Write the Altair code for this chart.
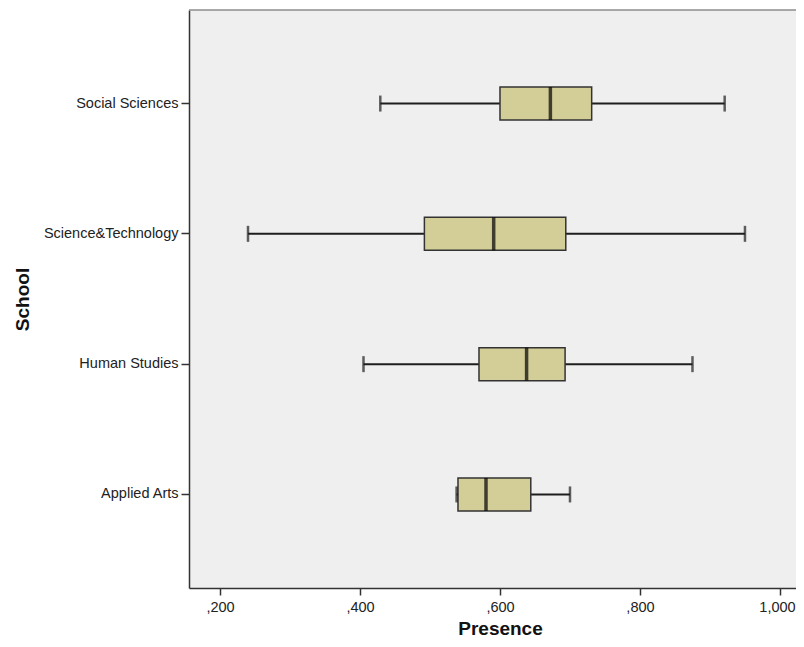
import altair as alt
import pandas as pd

# Values (Presence as proportion)
schools = ["Social Sciences", "Science&Technology", "Human Studies", "Applied Arts"]
whisker_low = [0.429, 0.240, 0.405, 0.538]
q1 = [0.600, 0.492, 0.570, 0.540]
median = [0.672, 0.591, 0.638, 0.580]
q3 = [0.731, 0.694, 0.693, 0.644]
whisker_high = [0.921, 0.950, 0.875, 0.700]
tick_values = [0.2, 0.4, 0.6, 0.8, 1.0]

df = pd.DataFrame({
    "school": schools,
    "lo": whisker_low,
    "q1": q1,
    "med": median,
    "q3": q3,
    "hi": whisker_high,
})

W, H = 607, 578
FONT = "Liberation Sans"

xscale = alt.Scale(domain=[0.1557, 1.0229], nice=False, zero=False)
yscale = alt.Scale(paddingInner=0.5, paddingOuter=0.468)

label_expr = ("datum.value < 1 ? replace(format(datum.value, '.3f'), '0.', ',') "
              ": replace(format(datum.value, '.3f'), '.', ',')")

x_axis = alt.Axis(
    values=tick_values, labelExpr=label_expr, grid=False,
    tickSize=7, labelPadding=5, title="Presence",
    labelOffset={"condition": {"test": "datum.value >= 1", "value": -3}, "value": 0},
    titleBaseline="alphabetic", titleY=46, titleX=311,
)
y_axis = alt.Axis(
    grid=False, tickSize=8, labelPadding=3, title="School",
    titleBaseline="alphabetic", titleX=-161,
)

base = alt.Chart(df)
Y = alt.Y("school:N", sort=schools, scale=yscale, axis=y_axis)

whisker = base.mark_rule(color="#1e1e1e", strokeWidth=2).encode(
    x=alt.X("lo:Q", scale=xscale, axis=x_axis),
    x2="hi:Q",
    y=Y,
)
box = base.mark_bar(size=33, fill="#d3ce97", stroke="#333333", strokeWidth=1.5).encode(
    x=alt.X("q1:Q", scale=xscale),
    x2="q3:Q",
    y=Y,
)
med = base.mark_tick(color="#000000", thickness=3.5, size=33).encode(
    x=alt.X("med:Q", scale=xscale),
    y=Y,
)
cap_lo = base.mark_tick(color="#1e1e1e", thickness=2.5, size=16).encode(
    x=alt.X("lo:Q", scale=xscale),
    y=Y,
)
cap_hi = base.mark_tick(color="#1e1e1e", thickness=2.5, size=16).encode(
    x=alt.X("hi:Q", scale=xscale),
    y=Y,
)
top_border = alt.Chart(pd.DataFrame({"a": [0]})).mark_rule(
    color="#8c8c8c", strokeWidth=1.5
).encode(y=alt.value(0), x=alt.value(0), x2=alt.value(W))

chart = alt.layer(whisker, box, med, cap_lo, cap_hi, top_border).properties(
    width=W, height=H,
    autosize=alt.AutoSizeParams(type="none"),
    padding={"left": 181, "top": 2, "right": 0, "bottom": 51},
    background="white",
).configure_view(
    fill="#efefef", stroke=None,
).configure_axis(
    domainColor="#333333", domainWidth=1.5,
    tickColor="#333333", tickWidth=1.5,
    labelFont=FONT, labelFontSize=14.5, labelColor="#222222",
    titleFont=FONT, titleFontSize=19, titleFontWeight="bold", titleColor="#111111",
)

chart.save("out.html", embed_options={"renderer": "svg", "actions": False})
